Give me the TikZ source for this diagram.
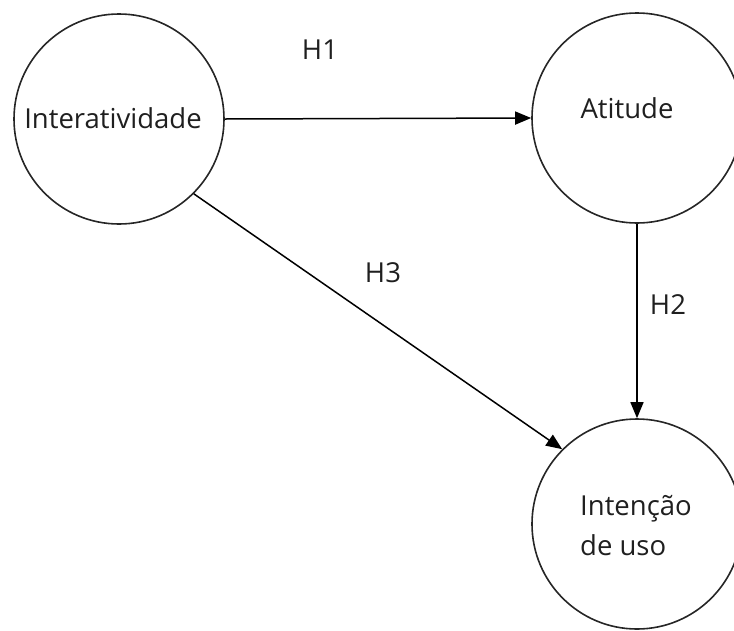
\documentclass[tikz,border=0pt]{standalone}
\usepackage{fontspec}
\setmainfont{Open Sans}
\usetikzlibrary{arrows.meta}
\begin{document}
\begin{tikzpicture}[x=1pt,y=-1pt,
  var/.style={draw=black!85,line width=1.6pt,circle,minimum size=210pt,inner sep=0pt},
  txt/.style={font=\fontsize{27.5}{40}\selectfont,text=black!88,inner sep=0pt},
  conn/.style={draw=black,line width=1.5pt,-{Triangle[length=16pt,width=13pt]}}]
\useasboundingbox (0,0) rectangle (734,630);
\clip (0,0) rectangle (734,630);
\node[var] (int) at (119,119) {};
\node[var] (ati) at (637,118) {};
\node[var] (inu) at (637,524) {};
\node[txt,anchor=base] (tint) at (113,128) {Interatividade};
\node[txt,anchor=base] (tati) at (627,118) {Atitude};
\node[txt,align=left,anchor=base west] (tinu) at (580,555) {Intenção\\de uso};
\draw[conn] (int.east) -- (ati.west);
\draw[conn] (ati.south) -- (inu.north);
\draw[conn] (int.-45) -- (inu.135);
\node[txt] (h1) at (320,50) {H1};
\node[txt] (h2) at (668,305) {H2};
\node[txt] (h3) at (383,273) {H3};
\end{tikzpicture}
\end{document}
